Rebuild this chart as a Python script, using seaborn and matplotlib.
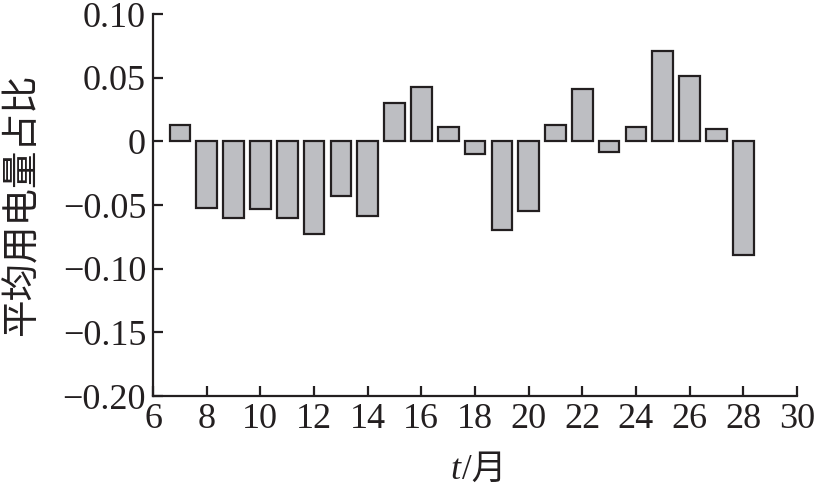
import numpy as np
import pandas as pd
import seaborn as sns
import matplotlib.pyplot as plt

# monthly data
months = [7, 8, 9, 10, 11, 12, 13, 14, 15, 16, 17, 18, 19, 20, 21, 22, 23, 24, 25, 26, 27, 28]
ratio = [0.013, -0.052, -0.060, -0.053, -0.060, -0.073, -0.043, -0.059, 0.030, 0.043, 0.011,
         -0.010, -0.070, -0.055, 0.013, 0.041, -0.008, 0.011, 0.071, 0.051, 0.010, -0.089]
x_ticks = list(range(6, 31, 2))
y_ticks = [0.10, 0.05, 0, -0.05, -0.10, -0.15, -0.20]
y_tick_labels = ['0.10', '0.05', '0', '\u22120.05', '\u22120.10', '\u22120.15', '\u22120.20']

sns.set_style('white')
plt.rcParams['font.family'] = ['Liberation Serif', 'Noto Sans CJK SC']

df = pd.DataFrame({'month': months, 'ratio': ratio})

fig = plt.figure(figsize=(8.17, 4.92), dpi=100)
ax = fig.add_axes([0.1873, 0.1951, 0.7882, 0.7764])

sns.barplot(data=df, x='month', y='ratio', native_scale=True, width=0.77,
            color='#bdbec2', saturation=1, edgecolor='#231f20', linewidth=1.6, ax=ax)

ax.set_xlim(6, 30)
ax.set_ylim(-0.20, 0.10)
ax.set_xticks(x_ticks)
ax.set_xticklabels([str(t) for t in x_ticks])
ax.set_yticks(y_ticks)
ax.set_yticklabels(y_tick_labels)

for side in ['top', 'right']:
    ax.spines[side].set_visible(False)
for side in ['left', 'bottom']:
    ax.spines[side].set_linewidth(1.6)
    ax.spines[side].set_color('#231f20')

ax.tick_params(direction='in', length=7, width=1.6, color='#231f20', bottom=True, left=True,
               labelsize=26, labelcolor='#231f20', pad=5)

ax.set_xlabel('')
ax.set_ylabel('')
fig.text(0.0275, 0.5833, '平均用电量占比', rotation=90, ha='center', va='center',
         fontsize=27, family=['Noto Sans CJK SC'], color='#231f20')
fig.text(0.563, 0.043, 't', ha='right', va='center', fontsize=26, style='italic',
         family=['Liberation Serif'], color='#231f20')
fig.text(0.565, 0.045, '/月', ha='left', va='center', fontsize=25,
         family=['Liberation Serif', 'Noto Sans CJK SC'], color='#231f20')

plt.savefig('out.png', dpi=100)
